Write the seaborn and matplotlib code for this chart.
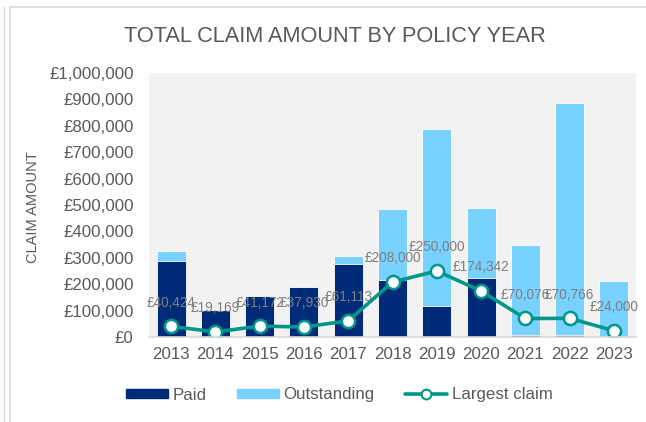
import matplotlib
matplotlib.use("Agg")
import matplotlib.pyplot as plt
import seaborn as sns
import pandas as pd
from matplotlib.lines import Line2D
from matplotlib.patches import Patch

years = ["2013", "2014", "2015", "2016", "2017", "2018", "2019", "2020", "2021", "2022", "2023"]
paid = [287000, 102000, 154000, 188000, 278000, 217000, 119000, 222000, 6000, 7000, 0]
outstanding = [40000, 0, 0, 0, 28000, 268000, 669000, 267000, 341000, 879000, 212000]
largest = [40424, 19169, 41172, 37930, 61113, 208000, 250000, 174342, 70076, 70766, 24000]
y_ticks = list(range(0, 1000001, 100000))

NAVY = "#002B78"
LIGHT = "#78D1FE"
TEAL = "#00978A"
GREY_TXT = "#595959"

df = pd.DataFrame({"year": years, "paid": paid, "outstanding": outstanding, "largest": largest})
df["total"] = df["paid"] + df["outstanding"]

sns.set_theme(style="white")
plt.rcParams["font.family"] = ["Liberation Sans", "DejaVu Sans"]

fig = plt.figure(figsize=(6.46, 4.22), dpi=100)
ax = fig.add_axes([149 / 646, 1 - 337 / 422, 487 / 646, 264 / 422])
ax.set_facecolor("#F2F2F2")

sns.barplot(data=df, x="year", y="total", color=LIGHT, width=0.655, saturation=1,
            edgecolor="white", linewidth=0.6, ax=ax, zorder=2)
sns.barplot(data=df, x="year", y="paid", color=NAVY, width=0.655, saturation=1,
            edgecolor="white", linewidth=0.6, ax=ax, zorder=3)
sns.pointplot(data=df, x="year", y="largest", color=TEAL, errorbar=None, ax=ax,
              markers="o", markersize=9.5, markerfacecolor="white", markeredgecolor=TEAL,
              markeredgewidth=1.8, linewidth=2.6, zorder=5)

for i, v in enumerate(largest):
    ax.annotate(f"£{v:,}", (i, v), xytext=(0, 17), textcoords="offset points",
                ha="center", va="center", fontsize=9.8, color="#7F7F7F", zorder=6)

ax.set_xlim(-0.5, 10.5)
ax.set_ylim(0, 1000000)
ax.set_yticks(y_ticks)
ax.set_yticklabels([f"£{t:,}" for t in y_ticks])
ax.tick_params(axis="y", length=0, pad=11, labelsize=12.2, labelcolor=GREY_TXT)
ax.tick_params(axis="x", length=0, pad=7, labelsize=12.2, labelcolor=GREY_TXT)
ax.set_xlabel("")
ax.set_ylabel("")
for s in ["top", "right", "left"]:
    ax.spines[s].set_visible(False)
ax.spines["bottom"].set_color("#D9D9D9")
ax.spines["bottom"].set_linewidth(1.2)
ax.spines["bottom"].set_zorder(7)

fig.text(33 / 646, 1 - 207 / 422, "CLAIM AMOUNT", rotation=90, ha="center", va="center",
         fontsize=10.5, color=GREY_TXT)
fig.text(335 / 646, 1 - 37 / 422, "TOTAL CLAIM AMOUNT BY POLICY YEAR", ha="center",
         va="center", fontsize=15.7, color=GREY_TXT)

handles = [
    Patch(facecolor=NAVY, edgecolor=NAVY),
    Patch(facecolor=LIGHT, edgecolor=LIGHT),
    Line2D([0], [0], color=TEAL, lw=2.6, marker="o", markersize=7,
           markerfacecolor="white", markeredgecolor=TEAL, markeredgewidth=1.5),
]
fig.legend(handles, ["Paid", "Outstanding", "Largest claim"], loc="center",
           bbox_to_anchor=(339 / 646, 1 - 395 / 422), ncol=3, frameon=False,
           fontsize=12.2, labelcolor=GREY_TXT, handlelength=2.5, handleheight=0.5,
           handletextpad=0.25, columnspacing=1.8)

# chart frame lines
fig.add_artist(Line2D([10 / 646, 10 / 646], [0, 1 - 7 / 422], color="#D9D9D9", lw=1.2,
                      transform=fig.transFigure))
fig.add_artist(Line2D([10 / 646, 1], [1 - 7 / 422, 1 - 7 / 422], color="#D9D9D9", lw=1.2,
                      transform=fig.transFigure))
fig.add_artist(Line2D([4 / 646, 4 / 646], [0, 1 - 7 / 422], color="#D9D9D9", lw=1.0,
                      transform=fig.transFigure))

fig.savefig("out.png", dpi=100)
